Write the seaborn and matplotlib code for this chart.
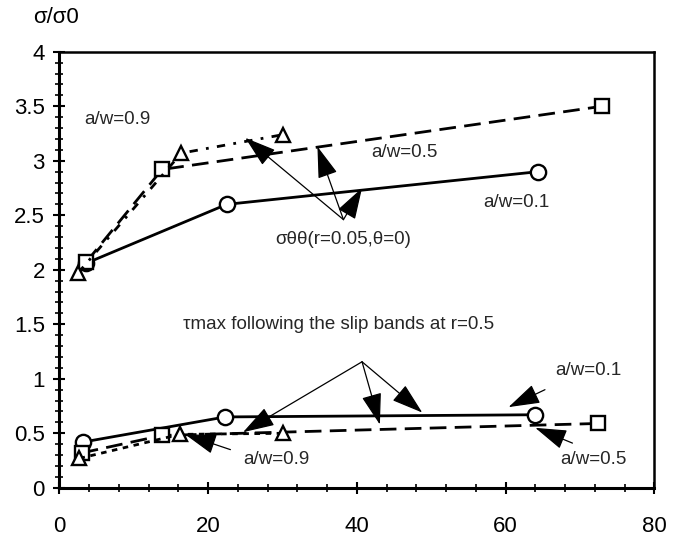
import matplotlib
matplotlib.use('Agg')
import matplotlib.pyplot as plt
from matplotlib.ticker import MultipleLocator, FuncFormatter
import pandas as pd
import seaborn as sns

# σθθ(r=0.05, θ=0) curves
sig_x_01 = [3.6, 22.5, 64.4]
sig_y_01 = [2.06, 2.60, 2.90]
sig_x_05 = [3.6, 13.8, 73.0]
sig_y_05 = [2.07, 2.92, 3.50]
sig_x_09 = [2.5, 16.4, 30.1]
sig_y_09 = [1.97, 3.07, 3.24]

# τmax following the slip bands at r=0.5
tau_x_01 = [3.2, 22.3, 64.0]
tau_y_01 = [0.42, 0.65, 0.67]
tau_x_05 = [3.0, 13.8, 72.4]
tau_y_05 = [0.32, 0.48, 0.59]
tau_x_09 = [2.7, 16.2, 30.1]
tau_y_09 = [0.27, 0.49, 0.50]

sns.set_theme(style='ticks')
plt.rcParams['font.family'] = ['Liberation Sans', 'DejaVu Sans']
plt.rcParams['axes.unicode_minus'] = False

fig = plt.figure(figsize=(6.99, 5.39), dpi=100)
ax = fig.add_axes([0.085, 0.095, 0.851, 0.809])

def draw(xs, ys, ls, marker, ms):
    df = pd.DataFrame({'x': xs, 'y': ys})
    sns.lineplot(data=df, x='x', y='y', ax=ax, color='black', linewidth=2.0,
                 linestyle=ls, marker=marker, markersize=ms,
                 markerfacecolor='white', markeredgecolor='black',
                 markeredgewidth=1.7, sort=False)

draw(sig_x_01, sig_y_01, '-', 'o', 11)
draw(sig_x_05, sig_y_05, (0, (6, 3)), 's', 10)
draw(sig_x_09, sig_y_09, (0, (3, 3, 1, 3)), '^', 10)
draw(tau_x_01, tau_y_01, '-', 'o', 11)
draw(tau_x_05, tau_y_05, (0, (6, 3)), 's', 10)
draw(tau_x_09, tau_y_09, (0, (2, 2)), '^', 10)

ax.set_xlim(0, 80)
ax.set_ylim(0, 4)
ax.xaxis.set_major_locator(MultipleLocator(20))
ax.xaxis.set_minor_locator(MultipleLocator(4))
ax.yaxis.set_major_locator(MultipleLocator(0.5))
ax.yaxis.set_minor_locator(MultipleLocator(0.1))
ax.yaxis.set_major_formatter(FuncFormatter(lambda v, p: f'{v:g}'))
ax.tick_params(which='major', direction='inout', length=9, width=1.5,
               labelsize=16, color='black', labelcolor='black')
ax.tick_params(which='minor', direction='inout', length=6, width=1.2, color='black')
ax.tick_params(axis='x', which='major', pad=16)
ax.tick_params(axis='y', which='major', pad=6)
ax.set_xlabel('')
ax.set_ylabel('')
for side in ['left', 'bottom', 'top', 'right']:
    ax.spines[side].set_visible(True)
    ax.spines[side].set_color('black')
ax.spines['left'].set_linewidth(2.2)
ax.spines['bottom'].set_linewidth(2.2)
ax.spines['top'].set_linewidth(1.8)
ax.spines['right'].set_linewidth(1.8)

fig.text(0.047, 0.967, 'σ/σ0', fontsize=16, ha='left', va='center', color='black')

# labels
fs = 13.5
ax.text(3.3, 3.38, 'a/w=0.9', fontsize=fs, va='center')
ax.text(42.0, 3.08, 'a/w=0.5', fontsize=fs, va='center')
ax.text(57.0, 2.62, 'a/w=0.1', fontsize=fs, va='center')
ax.text(29.0, 2.28, 'σθθ(r=0.05,θ=0)', fontsize=fs, va='center')
ax.text(16.6, 1.50, 'τmax following the slip bands at r=0.5', fontsize=fs, va='center')
ax.text(66.7, 1.08, 'a/w=0.1', fontsize=fs, va='center')
ax.text(24.7, 0.26, 'a/w=0.9', fontsize=fs, va='center')
ax.text(67.4, 0.26, 'a/w=0.5', fontsize=fs, va='center')

arrow = dict(arrowstyle='-|>,head_length=1.1,head_width=0.35', color='black',
             lw=0.9, mutation_scale=18, shrinkA=0, shrinkB=0)

def pointer(tail, tip):
    ax.annotate('', xy=tip, xytext=tail, arrowprops=arrow)

sig_tail = (38.2, 2.46)
pointer(sig_tail, (25.0, 3.21))
pointer(sig_tail, (34.7, 3.13))
pointer(sig_tail, (40.7, 2.75))

tau_tail = (40.7, 1.156)
pointer(tau_tail, (24.7, 0.51))
pointer(tau_tail, (43.1, 0.58))
pointer(tau_tail, (48.8, 0.69))

pointer((23.0, 0.35), (16.9, 0.49))
pointer((65.3, 0.90), (60.4, 0.74))
pointer((69.0, 0.41), (64.0, 0.55))

fig.savefig('out.png', dpi=100)
